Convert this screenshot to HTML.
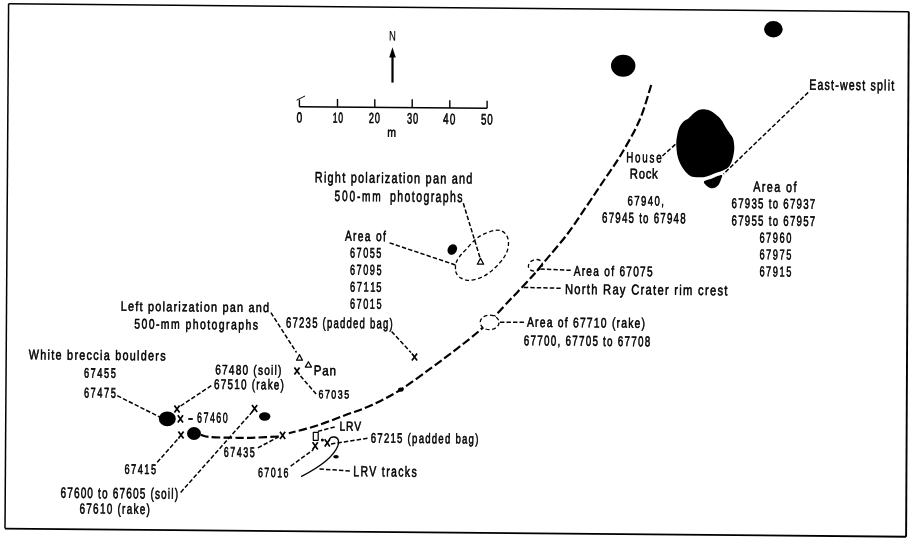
<!DOCTYPE html>
<html><head><meta charset="utf-8"><style>
html,body{margin:0;padding:0;background:#fff;}
svg{display:block;filter:grayscale(1);}
text{font-family:"Liberation Sans",sans-serif;fill:#000;stroke:#000;stroke-width:0.5;vector-effect:non-scaling-stroke;}
.ld{fill:none;stroke:#000;stroke-width:1.5;stroke-dasharray:4.4 2.1;}
.de{fill:none;stroke:#000;stroke-width:1.3;stroke-dasharray:4 2.6;}
.xm{fill:none;stroke:#000;stroke-width:1.7;}
.tr{fill:none;stroke:#000;stroke-width:1.2;stroke-linejoin:round;}
</style></head><body>
<svg width="914" height="542" viewBox="0 0 914 542">
<rect width="914" height="542" fill="#fff"/>
<path d="M8.6 3.8 L908.8 11.8" fill="none" stroke="#000" stroke-width="1.4"/><path d="M906.1 536.7 L5.0 528.6" fill="none" stroke="#000" stroke-width="1.9"/><path d="M908.8 11.8 L906.1 536.7" fill="none" stroke="#000" stroke-width="1.9"/><path d="M5.0 528.6 L8.6 3.8" fill="none" stroke="#000" stroke-width="1.5"/>
<path d="M392.5 57 V82.6" stroke="#000" stroke-width="2.2"/>
<path d="M392.4 47.2 L395.8 57.6 L389.2 57.6 Z" fill="#000"/>
<path d="M299.4 106.8 L487.1 108.3" stroke="#000" stroke-width="1.45"/>
<path d="M299.4 99.6 V106.8" stroke="#000" stroke-width="1.4"/>
<path d="M337.5 99.0 V107.1" stroke="#000" stroke-width="1.4"/>
<path d="M374.8 99.3 V107.4" stroke="#000" stroke-width="1.4"/>
<path d="M412.2 99.2 V107.7" stroke="#000" stroke-width="1.4"/>
<path d="M449.8 100.2 V108.0" stroke="#000" stroke-width="1.4"/>
<path d="M487.1 100.8 V108.3" stroke="#000" stroke-width="1.4"/>
<path d="M296.6 100.2 L305 96" stroke="#000" stroke-width="1"/>
<path d="M651.2 85.0 C649.3 90.8 644.6 108.5 639.7 119.8 C634.8 131.1 627.9 143.0 622.0 153.0 C616.1 163.0 610.1 171.1 604.1 180.0 C598.1 188.9 592.6 197.4 586.3 206.6 C580.0 215.8 573.4 226.1 566.4 235.3 C559.4 244.5 549.8 255.2 544.3 261.9 C538.8 268.5 537.7 270.1 533.2 275.2 C528.7 280.2 521.3 288.0 517.4 292.2 C513.5 296.4 513.1 296.5 509.6 300.2 C506.1 303.9 501.1 309.6 496.2 314.6 C491.3 319.6 486.4 324.6 480.0 330.2 C473.6 335.8 465.6 342.1 457.5 348.3 C449.4 354.5 441.2 360.7 431.7 367.6 C422.2 374.5 410.7 383.4 400.7 389.6 C390.7 395.9 381.1 400.9 371.9 405.1 C362.7 409.3 354.4 411.7 345.6 415.0 C336.9 418.3 326.5 422.4 319.4 424.8 C312.3 427.2 308.1 428.2 303.0 429.6 C297.9 431.0 291.2 432.6 288.8 433.2" fill="none" stroke="#000" stroke-width="2.2" stroke-dasharray="8.5 3.2"/>
<path d="M278.8 436.5 C275.3 436.7 264.8 437.3 258.0 437.5 C251.2 437.7 246.2 437.9 238.1 437.8 C230.0 437.7 215.5 437.5 209.3 437.0 C203.1 436.5 202.2 435.2 200.8 434.9" fill="none" stroke="#000" stroke-width="2.2" stroke-dasharray="8.5 3.2"/>
<path d="M808.2 92.4 L723.5 174.0" class="ld"/>
<path d="M662.4 156.0 L676.0 143.8" class="ld"/>
<path d="M463.3 203.3 L479.9 257.3" class="ld"/>
<path d="M389.6 242.9 L456.2 265.2" class="ld"/>
<path d="M540.4 269.0 L572.0 270.4" class="ld"/>
<path d="M523.8 287.4 L562.0 288.3" class="ld"/>
<path d="M500.0 322.3 L525.5 322.3" class="ld"/>
<path d="M391.6 331.5 L411.0 352.6" class="ld"/>
<path d="M270.9 312.7 L296.5 352.5" class="ld"/>
<path d="M300.5 376.0 L317.4 395.5" class="ld"/>
<path d="M117.2 395.7 L161.3 417.8" class="ld"/>
<path d="M211.3 385.6 L180.6 406.0" class="ld"/>
<path d="M157.2 462.3 L178.6 438.2" class="ld"/>
<path d="M180.7 492.4 L253.0 411.0" class="ld"/>
<path d="M257.9 447.8 L278.4 437.0" class="ld"/>
<path d="M290.7 466.1 L313.5 449.5" class="ld"/>
<path d="M317.9 431.4 L336.3 426.5" class="ld"/>
<path d="M331.0 444.0 L367.7 438.3" class="ld"/>
<path d="M319.5 469.0 L350.9 471.0" class="ld"/>
<ellipse cx="623.2" cy="65.8" rx="12.2" ry="11" fill="#000"/>
<ellipse cx="773.4" cy="29.3" rx="9.3" ry="8.2" fill="#000"/>
<path d="M704.1 109.2 C706.0 109.3 707.7 109.7 709.7 110.6 C711.7 111.5 714.1 113.2 716.1 114.8 C718.1 116.4 720.1 118.3 721.6 120.3 C723.1 122.3 724.1 124.7 725.3 126.7 C726.5 128.7 727.8 130.5 729.0 132.3 C730.2 134.2 731.9 135.8 732.7 137.8 C733.6 139.8 733.9 142.3 734.1 144.3 C734.4 146.3 734.3 148.0 734.2 149.8 C734.1 151.6 733.9 152.9 733.4 155.2 C732.9 157.4 732.1 161.1 731.0 163.3 C729.9 165.5 729.3 166.9 727.0 168.4 C724.7 169.9 720.4 171.2 717.0 172.6 C713.6 173.9 709.3 175.7 706.5 176.5 C703.7 177.3 702.8 177.3 700.4 177.3 C698.0 177.3 694.5 177.3 692.3 176.7 C690.1 176.1 689.1 175.4 687.2 173.5 C685.4 171.6 682.8 168.3 681.2 165.4 C679.6 162.5 678.4 159.6 677.6 156.2 C676.8 152.8 676.4 148.2 676.3 145.0 C676.2 141.8 676.4 139.8 676.9 136.9 C677.4 134.0 678.1 130.3 679.2 127.7 C680.4 125.1 682.3 122.8 683.8 121.2 C685.3 119.7 686.8 119.6 688.4 118.4 C690.0 117.2 691.4 115.2 693.1 113.8 C694.8 112.4 696.8 110.9 698.6 110.1 C700.4 109.3 702.2 109.1 704.1 109.2 Z" fill="#000"/>
<path d="M704.0 181.4 C704.8 180.1 709.1 179.5 712.0 178.4 C714.9 177.3 720.1 174.8 721.6 175.0 C723.1 175.2 721.6 177.8 721.0 179.5 C720.4 181.2 719.4 184.0 718.0 185.5 C716.6 187.0 714.4 188.1 712.6 188.3 C710.9 188.5 708.9 187.7 707.5 186.5 C706.1 185.3 703.2 182.8 704.0 181.4 Z" fill="#000"/>
<ellipse cx="452.3" cy="249.5" rx="4.5" ry="5.6" transform="rotate(30 452.3 249.5)" fill="#000"/>
<ellipse cx="167.3" cy="418.8" rx="8.5" ry="7.4" fill="#000"/>
<ellipse cx="194" cy="433.5" rx="7" ry="6.4" fill="#000"/>
<ellipse cx="264.7" cy="416.5" rx="5.7" ry="4.2" fill="#000"/>
<ellipse cx="400.8" cy="389.6" rx="2.8" ry="2.2" fill="#000"/>
<ellipse cx="336" cy="456.7" rx="2.8" ry="1.8" fill="#000"/>
<path d="M455.5 269.3 C455.4 267.5 455.4 264.9 456.1 262.7 C456.9 260.5 458.2 258.3 460.0 256.0 C461.8 253.7 464.0 251.6 466.6 248.8 C469.2 246.0 472.7 241.8 475.5 239.4 C478.3 237.0 480.1 235.9 483.2 234.4 C486.3 232.9 491.2 231.1 494.3 230.5 C497.4 229.9 499.9 230.2 502.0 231.1 C504.1 232.0 505.9 234.0 507.0 236.1 C508.1 238.2 508.6 241.0 508.5 243.8 C508.4 246.6 507.8 249.8 506.5 252.7 C505.2 255.6 503.3 258.6 500.9 261.5 C498.5 264.4 495.2 267.8 492.1 270.4 C489.0 273.0 485.8 275.3 482.1 277.0 C478.4 278.7 473.4 280.2 469.9 280.4 C466.4 280.6 463.3 279.3 461.1 278.2 C458.9 277.1 457.5 275.2 456.6 273.7 C455.7 272.2 455.6 271.1 455.5 269.3 Z" class="de"/>
<ellipse cx="535.4" cy="265.3" rx="7.2" ry="5.6" transform="rotate(-20 535.4 265.3)" class="de"/>
<ellipse cx="489.6" cy="322.4" rx="9.4" ry="7.3" fill="#fff" stroke="none"/>
<ellipse cx="489.6" cy="322.4" rx="9.4" ry="7.3" class="de"/>
<path d="M480.5 258.4 L483.7 264.2 L477.3 264.2 Z" class="tr"/>
<path d="M299.5 354.6 L302.5 360.2 L296.5 360.2 Z" class="tr"/>
<path d="M308.4 361.7 L311.5 367.1 L305.3 367.1 Z" class="tr"/>
<rect x="313.3" y="432.3" width="4.9" height="8" class="tr"/>
<path d="M301.1 476.6 C318 468 333 458 337.8 446 C339.5 441.5 338.5 437.5 334.2 437 C331.2 436.8 329.6 438.2 329.3 440" fill="none" stroke="#000" stroke-width="1.3"/>
<circle cx="322.4" cy="440" r="1.5" fill="#000"/>
<path d="M188.3 419 H192.8" stroke="#000" stroke-width="1.8"/>
<path d="M174.4 405.4L179.6 412.6M179.6 405.4L174.4 412.6" class="xm"/>
<path d="M177.8 415.2L183.0 422.4M183.0 415.2L177.8 422.4" class="xm"/>
<path d="M178.4 431.4L183.6 438.6M183.6 431.4L178.4 438.6" class="xm"/>
<path d="M252.0 404.9L257.2 412.1M257.2 404.9L252.0 412.1" class="xm"/>
<path d="M280.0 431.8L285.2 439.0M285.2 431.8L280.0 439.0" class="xm"/>
<path d="M294.4 367.4L299.6 374.6M299.6 367.4L294.4 374.6" class="xm"/>
<path d="M411.9 353.4L417.1 360.6M417.1 353.4L411.9 360.6" class="xm"/>
<path d="M312.6 442.2L317.8 449.4M317.8 442.2L312.6 449.4" class="xm"/>
<path d="M324.7 439.2L329.9 446.4M329.9 439.2L324.7 446.4" class="xm"/>
<text style="stroke-width:0.15" transform="translate(389.00 40.60) rotate(0.5) scale(0.6887 1)" x="0.00" y="0" font-size="13.71">N</text>
<text transform="translate(296.60 122.50) rotate(0.5) scale(0.7048 1)" x="0.00" y="0" font-size="14.57">0</text>
<text transform="translate(332.70 122.70) rotate(0.5) scale(0.5859 1)" x="0.00 9.51" y="0" font-size="14.57">10</text>
<text transform="translate(368.80 123.00) rotate(0.5) scale(0.6309 1)" x="0.00 9.60" y="0" font-size="14.71">20</text>
<text transform="translate(407.00 123.50) rotate(0.5) scale(0.6075 1)" x="0.00 9.88" y="0" font-size="15.14">30</text>
<text transform="translate(443.10 124.10) rotate(0.5) scale(0.6623 1)" x="0.00 9.88" y="0" font-size="15.14">40</text>
<text transform="translate(481.00 124.40) rotate(0.5) scale(0.6404 1)" x="0.00 9.88" y="0" font-size="15.14">50</text>
<text transform="translate(387.20 136.70) rotate(0.5) scale(0.7889 1)" x="0.00" y="0" font-size="13.21">m</text>
<text transform="translate(809.30 89.70) rotate(0.5) scale(0.7085 1)" x="0.00 11.62 21.59 30.73 36.57 43.23 55.67 65.64 74.78 80.62 86.45 95.59 105.56 110.58 115.59" y="0" font-size="14.86">East-west split</text>
<text transform="translate(626.30 162.20) rotate(0.5) scale(0.6772 1)" x="0.00 13.03 23.66 34.29 44.11" y="0" font-size="14.43">House</text>
<text transform="translate(629.80 178.40) rotate(0.5) scale(0.7943 1)" x="0.00 11.15 19.95 27.96" y="0" font-size="14.14">Rock</text>
<text transform="translate(627.60 205.30) rotate(0.5) scale(0.7087 1)" x="0.00 9.52 19.05 28.57 38.09 47.62" y="0" font-size="13.43">67940,</text>
<text transform="translate(602.00 222.60) rotate(0.5) scale(0.6604 1)" x="0.00 10.05 20.10 30.16 40.21 50.26 56.25 62.25 72.30 78.30 88.35 98.40 108.45 118.50" y="0" font-size="14.57">67945 to 67948</text>
<text transform="translate(753.20 191.60) rotate(0.5) scale(0.7354 1)" x="0.00 11.68 18.49 28.55 38.61 44.62 54.68" y="0" font-size="14.57">Area of</text>
<text transform="translate(731.50 208.00) rotate(0.5) scale(0.6882 1)" x="0.00 9.66 19.32 28.97 38.63 48.29 54.05 59.81 69.47 75.23 84.88 94.54 104.20 113.86" y="0" font-size="14.00">67935 to 67937</text>
<text transform="translate(731.50 225.30) rotate(0.5) scale(0.6812 1)" x="0.00 9.76 19.51 29.27 39.02 48.78 54.60 60.42 70.18 75.99 85.75 95.51 105.26 115.02" y="0" font-size="14.14">67955 to 67957</text>
<text transform="translate(759.40 242.40) rotate(0.5) scale(0.6491 1)" x="0.00 10.32 20.65 30.97 41.29" y="0" font-size="14.14">67960</text>
<text transform="translate(759.40 259.30) rotate(0.5) scale(0.6426 1)" x="0.00 10.43 20.85 31.28 41.71" y="0" font-size="14.29">67975</text>
<text transform="translate(759.40 276.30) rotate(0.5) scale(0.6426 1)" x="0.00 10.43 20.85 31.28 41.71" y="0" font-size="14.29">67915</text>
<text transform="translate(314.80 182.30) rotate(0.5) scale(0.7303 1)" x="0.00 12.46 17.48 27.47 37.46 43.32 49.17 59.16 69.15 74.18 84.17 90.84 95.87 105.02 115.01 120.87 125.89 135.88 145.87 151.73 161.72 171.71 181.70 187.55 197.54 207.53" y="0" font-size="14.86">Right polarization pan and</text>
<text transform="translate(334.50 201.00) rotate(0.5) scale(0.6793 1)" x="0.00 10.99 21.98 32.97 40.64 55.75" y="0" font-size="14.86">500-mm</text>
<text transform="translate(390.10 201.50) rotate(0.5) scale(0.6690 1)" x="0.00 10.82 21.65 32.47 38.96 49.79 60.61 67.96 78.79 89.61 100.44" y="0" font-size="15.57">photographs</text>
<text transform="translate(344.90 240.80) rotate(0.5) scale(0.7049 1)" x="0.00 11.56 18.31 28.27 38.23 44.18 54.15" y="0" font-size="14.43">Area of</text>
<text transform="translate(350.00 257.50) rotate(0.5) scale(0.6454 1)" x="0.00 10.22 20.44 30.66 40.88" y="0" font-size="14.00">67055</text>
<text transform="translate(350.00 274.70) rotate(0.5) scale(0.6263 1)" x="0.00 10.53 21.06 31.60 42.13" y="0" font-size="14.43">67095</text>
<text transform="translate(350.00 291.50) rotate(0.5) scale(0.6702 1)" x="0.00 10.05 20.10 30.15 39.17" y="0" font-size="13.86">67115</text>
<text transform="translate(350.00 308.60) rotate(0.5) scale(0.6325 1)" x="0.00 10.43 20.85 31.28 41.71" y="0" font-size="14.29">67015</text>
<text transform="translate(286.10 327.50) rotate(0.5) scale(0.6490 1)" x="0.00 10.03 20.07 30.10 40.14 50.17 56.15 62.94 72.97 83.01 93.04 103.08 113.11 123.15 129.13 139.16 149.20 159.23" y="0" font-size="14.57">67235 (padded bag)</text>
<text transform="translate(573.70 275.70) rotate(0.5) scale(0.7174 1)" x="0.00 11.17 17.67 27.29 36.91 42.63 52.25 57.97 63.69 73.31 82.93 92.55 102.17" y="0" font-size="14.00">Area of 67075</text>
<text transform="translate(564.90 293.90) rotate(0.5) scale(0.7798 1)" x="0.00 11.98 21.60 28.02 33.66 43.27 48.91 60.89 70.50 79.31 84.95 96.93 103.36 112.97 118.61 128.22 134.64 140.28 146.70 151.55 165.11 170.75 179.56 185.98 195.60 204.41" y="0" font-size="14.29">North Ray Crater rim crest</text>
<text transform="translate(526.90 326.80) rotate(0.5) scale(0.7513 1)" x="0.00 10.80 17.02 26.31 35.59 41.05 50.34 55.80 61.27 70.55 79.83 89.11 98.39 107.68 113.14 119.36 125.59 134.87 143.38 152.66" y="0" font-size="13.71">Area of 67710 (rake)</text>
<text transform="translate(523.80 345.20) rotate(0.5) scale(0.6954 1)" x="0.00 9.68 19.37 29.05 38.74 48.42 54.17 59.92 69.61 79.29 88.98 98.66 108.35 114.09 119.84 129.53 135.28 144.96 154.65 164.33 174.02" y="0" font-size="14.14">67700, 67705 to 67708</text>
<text transform="translate(120.80 310.80) rotate(0.5) scale(0.8146 1)" x="0.00 8.91 17.81 23.02 28.22 33.43 42.34 51.24 55.71 64.62 70.56 75.02 83.18 92.09 97.30 101.76 110.67 119.57 124.78 133.69 142.59 151.50 156.70 165.61 174.51" y="0" font-size="13.29">Left polarization pan and</text>
<text transform="translate(134.20 328.50) rotate(0.5) scale(0.7513 1)" x="0.00 9.64 19.29 28.93 35.48 48.96 62.44 68.23 77.88 87.52 97.16 102.95 112.59 122.24 128.79 138.43 148.08 157.72" y="0" font-size="13.86">500-mm photographs</text>
<text transform="translate(28.80 359.30) rotate(0.5) scale(0.7766 1)" x="0.00 14.76 24.14 28.90 34.43 43.81 49.34 58.72 65.01 74.40 83.01 91.61 96.37 105.75 111.28 120.67 130.05 139.43 144.19 153.58 162.96 169.25" y="0" font-size="13.86">White breccia boulders</text>
<text transform="translate(83.90 377.60) rotate(0.5) scale(0.6715 1)" x="0.00 10.01 20.02 30.03 40.04" y="0" font-size="13.71">67455</text>
<text transform="translate(83.90 397.40) rotate(0.5) scale(0.6578 1)" x="0.00 10.22 20.44 30.66 40.88" y="0" font-size="14.00">67475</text>
<text transform="translate(215.20 374.30) rotate(0.5) scale(0.7457 1)" x="0.00 9.16 18.32 27.48 36.64 45.80 51.18 57.31 65.71 74.87 79.50 84.12" y="0" font-size="13.57">67480 (soil)</text>
<text transform="translate(213.90 388.90) rotate(0.5) scale(0.7055 1)" x="0.00 9.59 19.18 28.77 38.36 47.95 53.65 60.11 66.58 76.17 84.97 94.56" y="0" font-size="14.00">67510 (rake)</text>
<text transform="translate(313.70 375.10) rotate(0.5) scale(0.8404 1)" x="0.00 10.21 18.90" y="0" font-size="13.71">Pan</text>
<text transform="translate(318.50 398.30) rotate(0.5) scale(0.7427 1)" x="0.00 8.65 17.31 25.96 34.62" y="0" font-size="11.86">67035</text>
<text transform="translate(197.00 422.40) rotate(0.5) scale(0.6123 1)" x="0.00 10.53 21.06 31.60 42.13" y="0" font-size="14.43">67460</text>
<text transform="translate(124.40 473.80) rotate(0.5) scale(0.6652 1)" x="0.00 10.01 20.02 30.03 40.04" y="0" font-size="13.71">67415</text>
<text transform="translate(60.40 497.80) rotate(0.5) scale(0.6740 1)" x="0.00 10.01 20.02 30.02 40.03 50.04 55.91 61.78 71.79 77.66 87.67 97.68 107.69 117.70 127.70 133.58 140.27 149.44 159.45 164.50 169.54" y="0" font-size="14.86">67600 to 67605 (soil)</text>
<text transform="translate(79.50 513.40) rotate(0.5) scale(0.6874 1)" x="0.00 9.88 19.77 29.65 39.54 49.42 55.29 61.95 68.62 78.50 87.58 97.46" y="0" font-size="14.43">67610 (rake)</text>
<text transform="translate(223.70 456.80) rotate(0.5) scale(0.6351 1)" x="0.00 10.22 20.44 30.66 40.88" y="0" font-size="14.00">67435</text>
<text transform="translate(257.90 477.00) rotate(0.5) scale(0.6628 1)" x="0.00 9.70 19.40 29.09 38.79" y="0" font-size="13.29">67016</text>
<text transform="translate(339.40 430.70) rotate(0.5) scale(0.7782 1)" x="0.00 8.41 19.00" y="0" font-size="13.14">LRV</text>
<text transform="translate(370.80 442.60) rotate(0.5) scale(0.6966 1)" x="0.00 9.44 18.89 28.33 37.78 47.22 52.85 59.24 68.68 78.12 87.57 97.01 106.46 115.90 121.53 130.97 140.42 149.86" y="0" font-size="13.71">67215 (padded bag)</text>
<text transform="translate(353.20 476.20) rotate(0.5) scale(0.7089 1)" x="0.00 10.17 22.79 34.33 40.41 46.49 53.38 63.55 72.90 82.25" y="0" font-size="14.71">LRV tracks</text>
</svg>
</body></html>
